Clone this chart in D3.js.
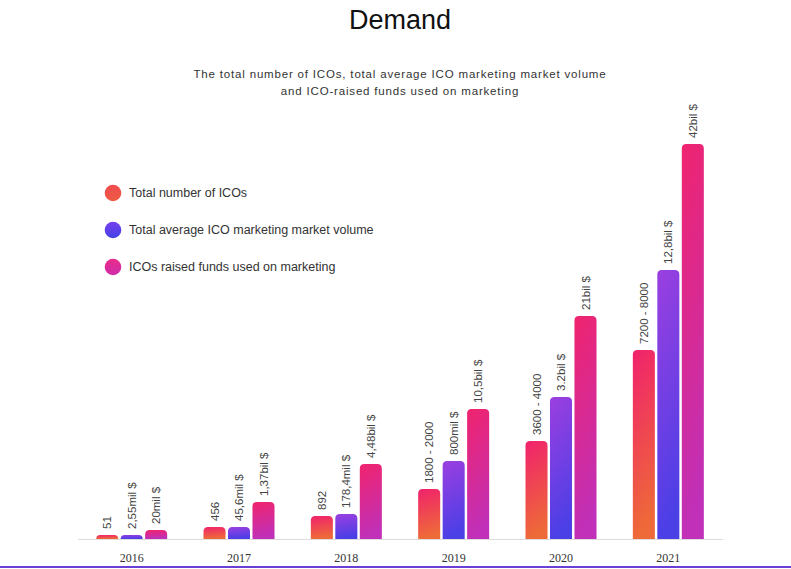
<!DOCTYPE html>
<html>
<head>
<meta charset="utf-8">
<script src="https://cdn.jsdelivr.net/npm/d3@7"></script>
<style>
  html, body { margin: 0; padding: 0; background: #fff; }
  svg { display: block; }
</style>
</head>
<body>
<div id="chart"></div>
<script>
// ---- data ----
const years = ["2016", "2017", "2018", "2019", "2020", "2021"];
const seriesNames = [
  "Total number of ICOs",
  "Total average ICO marketing market volume",
  "ICOs raised funds used on marketing"
];
const countLabels = ["51", "456", "892", "1800 - 2000", "3600 - 4000", "7200 - 8000"];
const volumeLabels = ["2,55mil $", "45,6mil $", "178,4mil $", "800mil $", "3.2bil $", "12,8bil $"];
const fundsLabels = ["20mil $", "1,37bil $", "4,48bil $", "10,5bil $", "21bil $", "42bil $"];
// bar heights as drawn in the (illustrative, non-proportional) chart
const countHeights = [4, 12, 23, 50, 98, 189];
const volumeHeights = [4, 12, 25, 78, 142, 269];
const fundsHeights = [9, 37, 75, 130, 223, 395];
const heightMax = 400;

const title = "Demand";
const subtitleLines = [
  "The total number of ICOs, total average ICO marketing market volume",
  "and ICO-raised funds used on marketing"
];

// ---- layout ----
const W = 791, H = 569;
const svg = d3.select("#chart").append("svg").attr("width", W).attr("height", H);

const gradStops = [
  ["#f0226c", "#ee6a38"],
  ["#9b3fe0", "#4b3fe6"],
  ["#f0246e", "#c030b8"]
];
const legendStops = [
  ["#f04a50", "#ee5a42"],
  ["#7a3ff0", "#4642e4"],
  ["#ea2c88", "#d02ca8"]
];
const defs = svg.append("defs");
function addGrad(id, stops) {
  const g = defs.append("linearGradient").attr("id", id)
    .attr("x1", 0).attr("y1", 0).attr("x2", 0.15).attr("y2", 1);
  g.append("stop").attr("offset", "0%").attr("stop-color", stops[0]);
  g.append("stop").attr("offset", "100%").attr("stop-color", stops[1]);
}
gradStops.forEach((s, i) => addGrad("bar" + i, s));
legendStops.forEach((s, i) => addGrad("leg" + i, s));

// title
svg.append("text").attr("x", 400).attr("y", 29)
  .attr("text-anchor", "middle")
  .style("font-family", "'Liberation Sans', Arial, sans-serif")
  .style("font-size", "27px").style("fill", "#111")
  .text(title);

// subtitle: letter spacing fitted so that line 1 spans the reference width
const subs = subtitleLines.map((line, i) =>
  svg.append("text").attr("x", 400).attr("y", 78 + i * 17)
    .attr("text-anchor", "middle")
    .style("font-family", "'Liberation Sans', Arial, sans-serif")
    .style("font-size", "11.5px").style("fill", "#333")
    .text(line));
const w0 = subs[0].node().getComputedTextLength();
const ls = (413 - w0) / subtitleLines[0].length;
subs.forEach(t => t.style("letter-spacing", ls + "px"));

// legend
const legend = svg.append("g");
seriesNames.forEach((name, i) => {
  const y = 193 + i * 37;
  legend.append("circle").attr("cx", 113).attr("cy", y).attr("r", 8.3)
    .attr("fill", `url(#leg${i})`);
  legend.append("text").attr("x", 129).attr("y", y).attr("dy", "0.35em")
    .style("font-family", "'Liberation Sans', Arial, sans-serif")
    .style("font-size", "12.5px").style("fill", "#333")
    .text(name);
});

// scales
const baseY = 539;
const x0 = d3.scaleBand().domain(years).range([78, 722]).padding(0);
const x1 = d3.scaleBand().domain([0, 1, 2]).range([-35.5, 35.5]).paddingInner(0.1).paddingOuter(0);
const y = d3.scaleLinear().domain([0, heightMax]).range([baseY, baseY - heightMax]);

const heights = [countHeights, volumeHeights, fundsHeights];
const labels = [countLabels, volumeLabels, fundsLabels];

const bars = [];
years.forEach((yr, j) => {
  for (let s = 0; s < 3; s++) {
    bars.push({ year: yr, s, h: heights[s][j], label: labels[s][j] });
  }
});

function topRounded(x, y0, w, yTop, r) {
  const h = y0 - yTop;
  r = Math.min(r, h, w / 2);
  return `M${x},${y0}V${yTop + r}Q${x},${yTop} ${x + r},${yTop}H${x + w - r}Q${x + w},${yTop} ${x + w},${yTop + r}V${y0}Z`;
}

const g = svg.append("g");
g.selectAll("path.bar").data(bars).join("path")
  .attr("class", "bar")
  .attr("d", d => {
    const cx = x0(d.year) + x0.bandwidth() / 2;
    const bx = cx + x1(d.s);
    return topRounded(bx, baseY, x1.bandwidth(), y(d.h), 4.5);
  })
  .attr("fill", d => `url(#bar${d.s})`);

g.selectAll("text.val").data(bars).join("text")
  .attr("class", "val")
  .attr("transform", d => {
    const cx = x0(d.year) + x0.bandwidth() / 2 + x1(d.s) + x1.bandwidth() / 2;
    return `translate(${cx},${y(d.h) - 6}) rotate(-90)`;
  })
  .attr("dy", "0.35em")
  .attr("text-anchor", "start")
  .style("font-family", "'Liberation Sans', Arial, sans-serif")
  .style("font-size", "11.5px").style("fill", "#444")
  .text(d => d.label);

// x axis
const axis = svg.append("g").attr("transform", `translate(0,${baseY})`)
  .call(d3.axisBottom(x0).tickSize(0).tickPadding(14));
axis.select(".domain").attr("stroke", "#dcdcdc").attr("d", "M78,0.5H723");
axis.selectAll("text")
  .style("font-family", "'Liberation Serif', 'Times New Roman', serif")
  .style("font-size", "12px").style("fill", "#333");

// bottom purple rule
svg.append("rect").attr("x", 0).attr("y", 566).attr("width", W).attr("height", 2)
  .attr("fill", "#6a3fd6");
</script>
</body>
</html>
